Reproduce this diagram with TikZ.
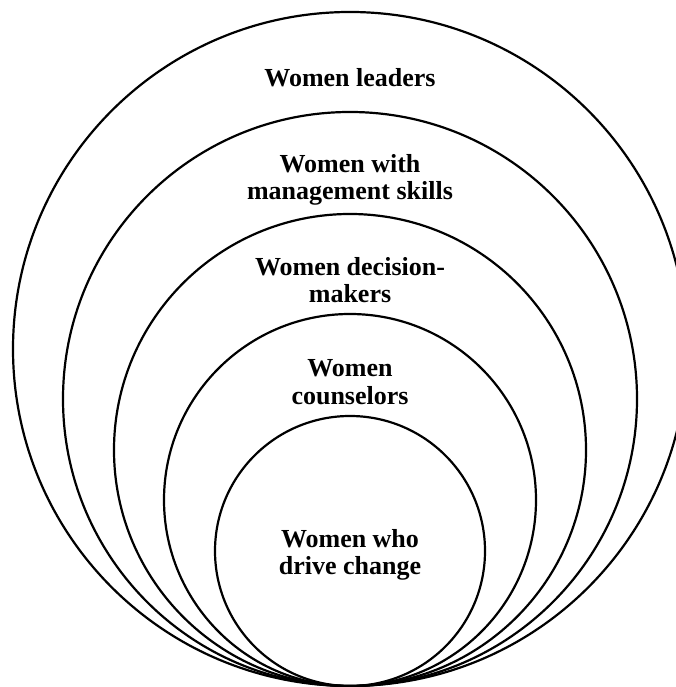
\documentclass[tikz,border=0pt]{standalone}
\usepackage{fontspec}
\setmainfont{Liberation Serif}
\begin{document}
\begin{tikzpicture}[x=1pt,y=1pt]
            \useasboundingbox (0,0) rectangle (676,687);
            \clip (0,0) rectangle (676,687);
            \coordinate (tip) at (350,1);

            \begin{scope}[line width=2.2pt]
                \foreach \r in {337,287,236,186,135}
                    \draw ([yshift=\r pt]tip) circle[radius=\r];
            \end{scope}

            \begin{scope}[every node/.style={font=\bfseries\fontsize{26}{27.5}\selectfont,align=center,inner sep=0pt}]
                \node (leaders) at (350,609) {Women leaders};
                \node (skills) at (350,507) {Women with\\management skills};
                \node (deciders) at (350,407) {Women decision-\\makers};
                \node (counsel) at (350,305) {Women\\counselors};
                \node (change) at (350,132) {Women who\\drive change};
            \end{scope}
            \end{tikzpicture}
\end{document}
